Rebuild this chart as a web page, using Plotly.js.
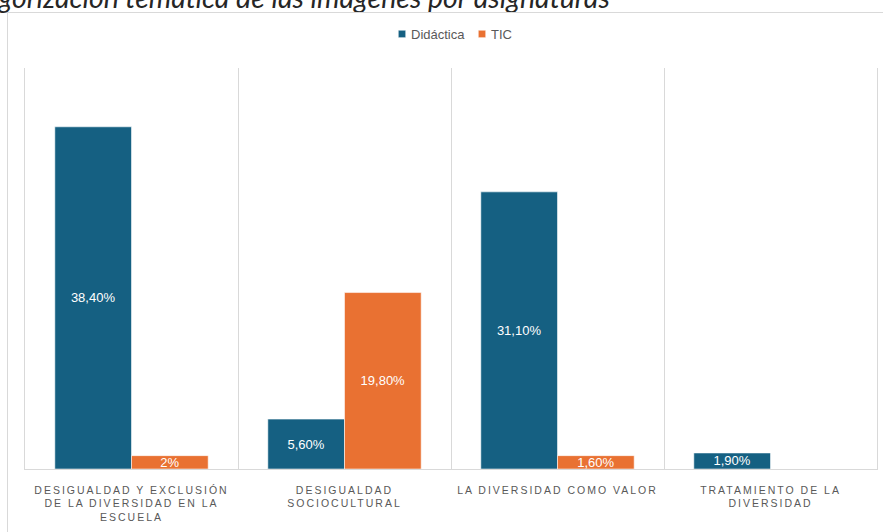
<!DOCTYPE html>
<html>
<head>
<meta charset="utf-8">
<script src="https://cdn.plot.ly/plotly-3.0.1.min.js"></script>
<style>
  html, body { margin: 0; padding: 0; background: #ffffff; overflow: hidden; }
  #wrap { position: relative; width: 883px; height: 532px; overflow: hidden; }
  #chart { width: 883px; height: 532px; }
  #frame { position: absolute; left: 7px; top: 12px; width: 900px; height: 600px;
           border-left: 1px solid #d9d9d9; border-top: 1px solid #d9d9d9; pointer-events: none; }
  .xtick text { letter-spacing: 2px; }
  .legendpoints path { transform: translate(31px, 0px) scale(0.6); }
</style>
</head>
<body>
<div id="wrap">
<div id="chart"></div>
<div id="frame"></div>
</div>
<script>
const chartTitle = "Categorización temática de las imágenes por asignaturas";
const categories = [
  "DESIGUALDAD Y EXCLUSIÓN<br>DE LA DIVERSIDAD EN LA<br>ESCUELA",
  "DESIGUALDAD<br>SOCIOCULTURAL",
  "LA DIVERSIDAD COMO VALOR",
  "TRATAMIENTO DE LA<br>DIVERSIDAD"
];
const seriesNames = ["Didáctica", "TIC"];
const didacticaValues = [38.4, 5.6, 31.1, 1.8];
const ticValues = [1.5, 19.8, 1.5, null];
const didacticaLabels = ["38,40%", "5,60%", "31,10%", "1,90%"];
const ticLabels = ["2%", "19,80%", "1,60%", ""];

const colors = ["#156082", "#E97132"];
const barText = { family: "Liberation Sans, Arial, sans-serif", size: 13, color: "#ffffff" };

const mk = (name, y, text, color) => ({
  type: "bar",
  name: name,
  x: categories,
  y: y,
  text: text,
  textposition: "inside",
  insidetextanchor: "middle",
  constraintext: "none",
  textangle: 0,
  textfont: barText,
  hoverinfo: "skip",
  marker: { color: color, line: { color: "rgba(255,255,255,0.55)", width: 1 } }
});

const data = [
  mk(seriesNames[0], didacticaValues, didacticaLabels, colors[0]),
  mk(seriesNames[1], ticValues, ticLabels, colors[1])
];

const L = 25, R = 6, T = 68, B = 63, W = 883, H = 532;
const pw = W - L - R, ph = H - T - B;
const px = v => (v - L) / pw;
const py = v => (H - B - v) / ph;

const layout = {
  width: W, height: H,
  margin: { l: L, r: R, t: T, b: B, pad: 0 },
  paper_bgcolor: "rgba(0,0,0,0)",
  plot_bgcolor: "rgba(0,0,0,0)",
  font: { family: "Liberation Sans, Arial, sans-serif", color: "#595959" },
  barmode: "group",
  bargap: 0.28,
  bargroupgap: 0,
  showlegend: true,
  legend: {
    orientation: "h",
    x: 0.5, xanchor: "center",
    y: py(34), yanchor: "middle",
    entrywidth: 35, entrywidthmode: "pixels",
    font: { size: 13, color: "#595959", family: "Liberation Sans, Arial, sans-serif" },
    itemclick: false, itemdoubleclick: false,
    traceorder: "normal"
  },
  xaxis: {
    type: "category",
    tickson: "boundaries",
    ticks: "",
    showgrid: true,
    gridcolor: "#d9d9d9",
    gridwidth: 1,
    showline: true,
    linecolor: "#d9d9d9",
    linewidth: 1,
    ticklabelstandoff: 11,
    tickfont: { size: 10.5, color: "#595959", family: "Liberation Sans, Arial, sans-serif" },
    automargin: false,
    fixedrange: true
  },
  yaxis: {
    range: [0, 45],
    showgrid: false,
    zeroline: false,
    showticklabels: false,
    showline: true,
    mirror: true,
    linecolor: "#d9d9d9",
    linewidth: 1,
    ticks: "",
    fixedrange: true
  },
  annotations: [{
    text: chartTitle,
    xref: "paper", yref: "paper",
    x: px(612), xanchor: "right",
    y: py(-3.5), yanchor: "middle",
    showarrow: false,
    font: { family: "Lato, Open Sans, sans-serif", size: 28.5, color: "#262626", style: "italic" }
  }]
};

Plotly.newPlot("chart", data, layout, { displayModeBar: false, staticPlot: true });
</script>
</body>
</html>
